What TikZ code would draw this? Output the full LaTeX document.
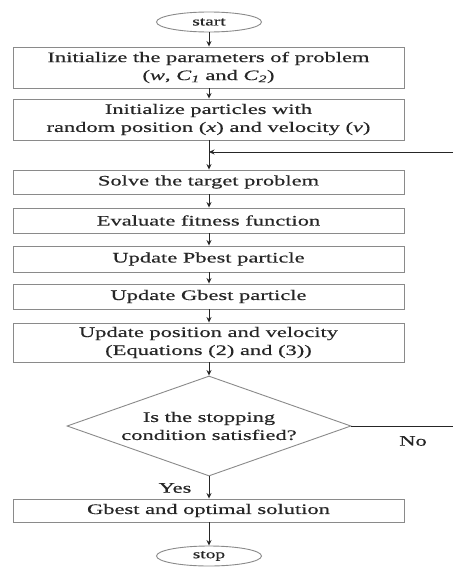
\documentclass[tikz,border=0pt]{standalone}
\usepackage{fontspec}
\usetikzlibrary{shapes.geometric,arrows.meta}
\newfontfamily\tfont[FakeStretch=1.55,FakeBold=0.4]{Liberation Serif}
\definecolor{boxline}{HTML}{8A8A8A}
\definecolor{txt}{HTML}{262626}
\begin{document}
\begin{tikzpicture}[x=1pt,y=-1pt,
  every node/.style={font=\tfont\fontsize{14.5}{18}\selectfont, text=txt},
  procbox/.style={draw=boxline, line width=0.9pt, rectangle, minimum width=391pt, inner sep=0pt, align=center},
  term/.style={draw=boxline, line width=0.9pt, ellipse, minimum width=105pt, minimum height=20pt, inner sep=0pt, font=\tfont\fontsize{12.5}{14}\selectfont},
  decision/.style={draw=boxline, line width=0.9pt, diamond, aspect=2.84, minimum width=284pt, minimum height=100pt, inner sep=0pt, align=center},
  arr/.style={draw=txt, line width=1pt, -{Stealth[length=5.5pt,width=5pt]}},
  ln/.style={draw=txt, line width=0.8pt}]
\useasboundingbox (0,0) rectangle (453,570);
\fill[white] (0,0) rectangle (453,570);

\node[term] (start) at (209,22) {start};
\node[procbox, minimum height=41pt] (b1) at (208.5,67.5) {Initialize the parameters of problem\\(\textit{w}, \textit{C}\textsubscript{\textit{1}} and \textit{C}\textsubscript{\textit{2}})};
\node[procbox, minimum height=41pt] (b2) at (208.5,119.5) {Initialize particles with\\random position (\textit{x}) and velocity (\textit{v})};
\coordinate (j) at (209,152);
\coordinate (fbR) at (453,152);
\node[procbox, minimum height=24pt] (b3) at (208.5,182) {Solve the target problem};
\node[procbox, minimum height=25pt] (b4) at (208.5,220.5) {Evaluate fitness function};
\node[procbox, minimum height=26pt] (b5) at (208.5,259) {Update Pbest particle};
\node[procbox, minimum height=25pt] (b6) at (208.5,296.5) {Update Gbest particle};
\node[procbox, minimum height=39pt] (b7) at (208.5,342.5) {Update position and velocity\\(Equations (2) and (3))};
\node[decision] (d) at (209,426) {Is the stopping\\condition satisfied?};
\coordinate (noR) at (453,426);
\node (no) at (413,441) {No};
\node (yes) at (175,488) {Yes};
\node[procbox, minimum height=23pt] (b8) at (208.5,510.5) {Gbest and optimal solution};
\node[term] (stop) at (209,556) {stop};

\draw[arr] (start.south) -- (b1.north -| start.south);
\draw[arr] (b1.south -| start.south) -- (b2.north -| start.south);
\draw[ln] (b2.south -| j) -- (j);
\draw[arr] (j) -- (b3.north -| j);
\draw[arr] (fbR) -- (j);
\draw[arr] (b3.south -| j) -- (b4.north -| j);
\draw[arr] (b4.south -| j) -- (b5.north -| j);
\draw[arr] (b5.south -| j) -- (b6.north -| j);
\draw[arr] (b6.south -| j) -- (b7.north -| j);
\draw[arr] (b7.south -| j) -- (d.north);
\draw[ln] (d.east) -- (noR);
\draw[arr] (d.south) -- (b8.north -| d.south);
\draw[arr] (b8.south -| stop.north) -- (stop.north);
\end{tikzpicture}
\end{document}
